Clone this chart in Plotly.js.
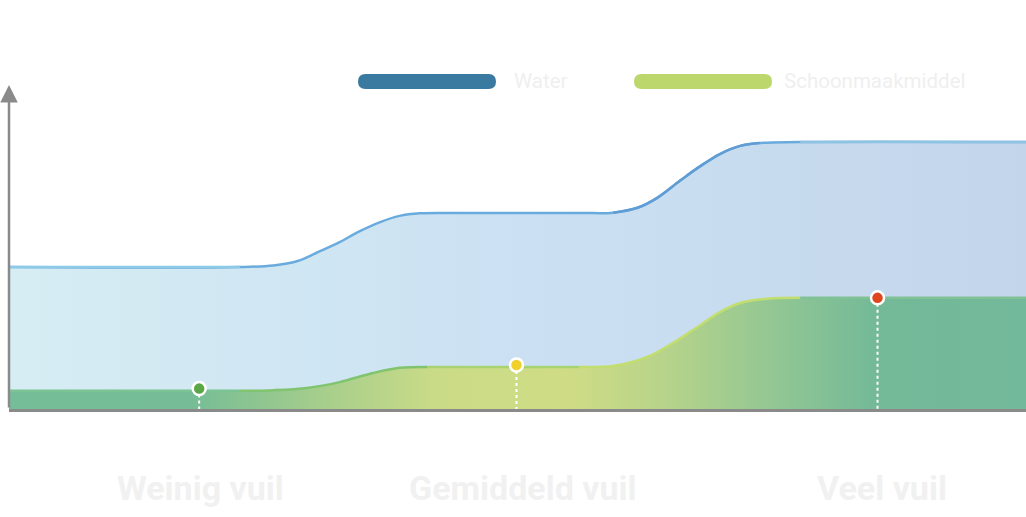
<!DOCTYPE html>
<html>
<head>
<meta charset="utf-8">
<script src="https://cdn.plot.ly/plotly-3.0.1.min.js"></script>
<style>
  html, body { margin: 0; padding: 0; background: #ffffff; }
  #chart { width: 1026px; height: 517px; }
</style>
</head>
<body>
<div id="chart"></div>
<script>
  // waterverbruik en schoonmaakmiddel per vervuilingsgraad
  const waterX = [0, 2.27, 2.60, 2.83, 3.03, 3.25, 3.45, 3.65, 3.84, 4.04, 4.43,
                  5.61, 5.94, 6.18, 6.37, 6.60, 6.79, 6.99, 7.19, 7.38, 7.78, 10];
  const waterY = [4.38, 4.38, 4.43, 4.56, 4.83, 5.15, 5.49, 5.77, 5.96, 6.04, 6.05,
                  6.05, 6.06, 6.21, 6.51, 7.05, 7.48, 7.87, 8.12, 8.21, 8.24, 8.24];

  const soapX = [0, 2.27, 2.60, 2.93, 3.25, 3.58, 3.84, 4.11, 4.43,
                 5.61, 5.94, 6.27, 6.53, 6.77, 6.99, 7.19, 7.45, 7.78, 10];
  const soapY = [0.56, 0.56, 0.58, 0.65, 0.83, 1.11, 1.27, 1.30, 1.30,
                 1.30, 1.33, 1.60, 2.04, 2.53, 2.99, 3.27, 3.40, 3.43, 3.43];

  const markX = [1.87, 4.99, 8.54];
  const markY = [0.63, 1.36, 3.43];
  const markColors = ['#5aa845', '#f0d02a', '#e0461e'];

  const labels = ['Weinig vuil', 'Gemiddeld vuil', 'Veel vuil'];
  const labelX = [1.88, 5.05, 8.58];

  const legendNames = ['Water', 'Schoonmaakmiddel'];
  const legendColors = ['#3a79a0', '#bcd76c'];

  // plot area in pixels: left 9, right 1026, top 85, bottom 409
  const L = 9, R = 1026, T = 85, B = 409;
  const px = x => (x - L) / (R - L);
  const py = y => (B - y) / (B - T);

  function pill(x0, x1, y0, y1) {
    const r = (y1 - y0) / 2;
    const p = (x, y) => px(x) + ',' + py(y);
    return 'M' + p(x0 + r, y0) + ' L' + p(x1 - r, y0) +
      ' Q' + p(x1, y0) + ' ' + p(x1, y0 + r) +
      ' Q' + p(x1, y1) + ' ' + p(x1 - r, y1) +
      ' L' + p(x0 + r, y1) +
      ' Q' + p(x0, y1) + ' ' + p(x0, y0 + r) +
      ' Q' + p(x0, y0) + ' ' + p(x0 + r, y0) + ' Z';
  }

  // stukje van een lijn in een andere kleur
  function part(xs, ys, i0, i1, color) {
    return {
      x: xs.slice(i0, i1), y: ys.slice(i0, i1), mode: 'lines',
      line: { shape: 'spline', color: color, width: 2.5 },
      hoverinfo: 'skip', showlegend: false
    };
  }

  let soap = {
    x: soapX, y: soapY, mode: 'lines', line: { shape: 'spline', color: 'rgba(0,0,0,0)', width: 0 },
    fill: 'tozeroy',
    fillgradient: { type: 'horizontal', colorscale: [
      [0, '#74bd98'], [0.18, '#76bd96'], [0.3, '#a3cd8c'], [0.42, '#cadb87'], [0.55, '#cfdc85'],
      [0.64, '#b8d48a'], [0.75, '#93c793'], [0.85, '#74ba98'], [1, '#72b89a']] },
    hoverinfo: 'skip', showlegend: false
  };

  let water = {
    x: waterX, y: waterY, mode: 'lines', line: { shape: 'spline', color: '#6aabdd', width: 2.5 },
    fill: 'tonexty',
    fillgradient: { type: 'horizontal', colorscale: [
      [0, '#d6edf3'], [0.5, '#cbe1f3'], [1, '#c3d5ea']] },
    hoverinfo: 'skip', showlegend: false
  };

  let lines = [
    part(waterX, waterY, 0, 2, '#8ccae7'),
    part(waterX, waterY, 12, 20, '#5f9dd4'),
    part(waterX, waterY, 20, 22, '#8ec3e1'),
    part(soapX, soapY, 0, 2, '#7bc393'),
    part(soapX, soapY, 1, 8, '#80c46f'),
    part(soapX, soapY, 7, 10, '#a9d273'),
    part(soapX, soapY, 9, 18, '#c2de6e'),
    part(soapX, soapY, 17, 19, '#80c196')
  ];

  let dropX = [], dropY = [];
  for (let i = 0; i < markX.length; i++) {
    dropX.push(markX[i], markX[i], null);
    dropY.push(markY[i], 0, null);
  }
  let drops = {
    x: dropX, y: dropY, mode: 'lines', line: { color: '#ffffff', width: 2, dash: 'dot' },
    hoverinfo: 'skip', showlegend: false
  };

  let marks = {
    x: markX, y: markY, mode: 'markers',
    marker: { size: 13, color: markColors, line: { color: '#ffffff', width: 2.5 } },
    hoverinfo: 'skip', showlegend: false, cliponaxis: false
  };

  let data = [soap, water].concat(lines, [drops, marks]);

  let annotations = [];
  for (let i = 0; i < labels.length; i++) {
    annotations.push({
      x: labelX[i], y: py(488), xref: 'x', yref: 'paper', text: labels[i], showarrow: false,
      font: { family: 'Roboto', size: 34, color: '#f1f1f1', weight: 'bold' }, xanchor: 'center', yanchor: 'middle'
    });
  }
  const legendTextX = [512, 782];
  const legendBarX = [[358, 496], [634, 772]];
  let shapes = [];
  for (let i = 0; i < legendNames.length; i++) {
    shapes.push({
      type: 'path', xref: 'paper', yref: 'paper', path: pill(legendBarX[i][0], legendBarX[i][1], 74, 89),
      fillcolor: legendColors[i], line: { width: 0 }
    });
    annotations.push({
      x: px(legendTextX[i]), y: py(81), xref: 'paper', yref: 'paper', text: legendNames[i], showarrow: false,
      font: { family: 'Roboto', size: 20.5, color: '#efefef' }, xanchor: 'left', yanchor: 'middle'
    });
  }
  // pijl van de y-as
  annotations.push({
    x: 0, y: 1, xref: 'paper', yref: 'paper', ax: 0, ay: B - T, axref: 'pixel', ayref: 'pixel',
    text: '', showarrow: true, arrowhead: 2, arrowsize: 1.4, arrowwidth: 2.5, arrowcolor: '#8a8a8a', standoff: 0
  });

  let layout = {
    width: 1026, height: 517,
    margin: { l: L, r: 1026 - R, t: T, b: 517 - B, pad: 0 },
    paper_bgcolor: '#ffffff', plot_bgcolor: '#ffffff',
    xaxis: { range: [0, 10], showgrid: false, zeroline: false, showticklabels: false, ticks: '',
             showline: true, linecolor: '#8a8a8a', linewidth: 2.5, fixedrange: true },
    yaxis: { range: [0, 10], showgrid: false, zeroline: false, showticklabels: false, ticks: '',
             showline: false, fixedrange: true },
    shapes: shapes,
    annotations: annotations,
    showlegend: false
  };

  Plotly.newPlot('chart', data, layout, { displayModeBar: false, staticPlot: true });
</script>
</body>
</html>
